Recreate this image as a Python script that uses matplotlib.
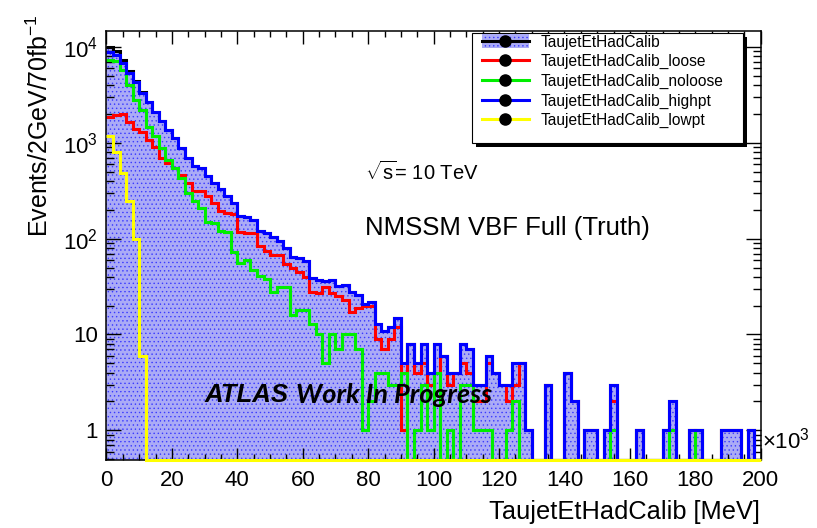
import numpy as np
import matplotlib
matplotlib.use("Agg")
import matplotlib.pyplot as plt
from matplotlib.patches import Patch, Rectangle
from matplotlib.lines import Line2D
from matplotlib.ticker import FixedLocator, MultipleLocator, LogLocator, NullFormatter

plt.rcParams["font.family"] = ["Liberation Sans", "DejaVu Sans"]
plt.rcParams["mathtext.fontset"] = "custom"
plt.rcParams["mathtext.rm"] = "Liberation Sans"
plt.rcParams["mathtext.it"] = "Liberation Sans:italic"
plt.rcParams["mathtext.bf"] = "Liberation Sans:bold"
plt.rcParams["hatch.linewidth"] = 0.5

# TaujetEtHadCalib in units of 10^3 MeV, 2 GeV bins
bin_edges = np.arange(0, 202, 2)

highpt = [8900, 8250, 6800, 5400, 4300, 3350, 2650, 2100, 1680, 1370,
          1120, 880, 690, 570, 545, 446, 385, 330, 280, 236,
          172, 170, 158, 121, 115, 105, 94, 79, 65, 63,
          58, 39, 37, 36, 37, 32, 33, 28, 26, 21,
          22, 13, 11, 12, 15, 5, 8, 5, 8, 4,
          8, 6, 4, 4, 8, 7, 3, 3, 6, 4,
          3, 3, 5, 5, 1, 0, 0, 3, 0, 0,
          4, 2, 0, 1, 1, 0, 1, 3, 0, 0,
          0, 1, 0, 0, 0, 1, 2, 0, 0, 1,
          1, 0, 0, 0, 1, 1, 1, 0, 1, 0]

lowpt = [1180, 810, 485, 250, 100, 6, 0, 0, 0, 0,
         0, 0, 0, 0, 0, 0, 0, 0, 0, 0,
         0, 0, 0, 0, 0, 0, 0, 0, 0, 0,
         0, 0, 0, 0, 0, 0, 0, 0, 0, 0,
         0, 0, 0, 0, 0, 0, 0, 0, 0, 0,
         0, 0, 0, 0, 0, 0, 0, 0, 0, 0,
         0, 0, 0, 0, 0, 0, 0, 0, 0, 0,
         0, 0, 0, 0, 0, 0, 0, 0, 0, 0,
         0, 0, 0, 0, 0, 0, 0, 0, 0, 0,
         0, 0, 0, 0, 0, 0, 0, 0, 0, 0]

noloose = [7400, 7100, 5760, 4000, 2800, 2200, 1480, 1165, 880, 660,
           545, 428, 298, 250, 210, 151, 145, 120, 118, 72,
           56, 60, 47, 41, 38, 28, 31, 31, 16, 18,
           18, 13, 10, 5, 10, 7, 10, 10, 7, 1,
           2, 4, 4, 3, 3, 4, 0, 1, 3, 1,
           4, 0, 1, 0, 3, 3, 1, 1, 1, 0,
           0, 1, 2, 0, 0, 0, 0, 0, 0, 0,
           0, 0, 0, 0, 0, 0, 0, 1, 0, 0,
           0, 0, 0, 0, 0, 0, 1, 0, 0, 0,
           1, 0, 0, 0, 0, 0, 0, 0, 0, 0]

loose = [1850, 1960, 2000, 1670, 1410, 1300, 1075, 915, 690, 614,
         545, 464, 380, 318, 318, 277, 236, 195, 185, 180,
         118, 115, 115, 83, 74, 68, 68, 54, 50, 45,
         40, 28, 27, 31, 27, 25, 23, 17, 19, 20,
         20, 9, 7, 9, 12, 1, 8, 4, 5, 3,
         4, 6, 3, 4, 5, 4, 2, 2, 5, 4,
         3, 2, 3, 5, 1, 0, 0, 3, 0, 0,
         4, 2, 0, 1, 1, 0, 1, 2, 0, 0,
         0, 1, 0, 0, 0, 1, 1, 0, 0, 1,
         0, 0, 0, 0, 1, 1, 1, 0, 1, 0]

labels = ["TaujetEtHadCalib", "TaujetEtHadCalib_loose", "TaujetEtHadCalib_noloose",
          "TaujetEtHadCalib_highpt", "TaujetEtHadCalib_lowpt"]

total = np.array(highpt, float) + np.array(lowpt, float)

YMIN, YMAX = 0.49, 1.47e4
W, H = 817, 528


def fx(px):
    return px / W


def fy(py):
    return 1 - py / H


def on_floor(vals):
    v = np.asarray(vals, float)
    return np.where(v > 0, v, YMIN)


fig = plt.figure(figsize=(W / 100, H / 100), dpi=100)
ax = fig.add_axes([fx(106.5), fy(460), fx(760.7) - fx(106.5), fy(31) - fy(460)])
ax.set_yscale("log")
ax.set_xlim(0, 200)
ax.set_ylim(YMIN, YMAX)

fill_kw = dict(facecolor="#ababf6", edgecolor="#3a3aff", hatch="....", linewidth=0)
ax.stairs(on_floor(total), bin_edges, fill=True, baseline=YMIN, zorder=1, **fill_kw)
ax.stairs(on_floor(total), bin_edges, baseline=None, color="black", linewidth=2.2, zorder=2)
ax.stairs(on_floor(loose), bin_edges, baseline=None, color="#ff0000", linewidth=2.2, zorder=3)
ax.stairs(on_floor(noloose), bin_edges, baseline=None, color="#00ee00", linewidth=2.2, zorder=4)
ax.stairs(on_floor(highpt), bin_edges, baseline=None, color="#0000ff", linewidth=2.2, zorder=5)
ax.stairs(on_floor(lowpt), bin_edges, baseline=None, color="#ffff00", linewidth=2.2,
          zorder=6, clip_on=False)

for s in ax.spines.values():
    s.set_linewidth(1.1)
    s.set_zorder(5.5)

ax.xaxis.set_major_locator(MultipleLocator(20))
ax.xaxis.set_minor_locator(MultipleLocator(5))
ax.xaxis.set_major_formatter(plt.FuncFormatter(lambda v, p: f"{v:.0f}"))
ax.yaxis.set_major_locator(FixedLocator([1, 10, 100, 1000, 10000]))
ax.set_yticklabels(["1", "10", "$10^{2}$", "$10^{3}$", "$10^{4}$"])
ax.yaxis.set_minor_locator(LogLocator(base=10, subs=np.arange(2, 10), numticks=20))
ax.yaxis.set_minor_formatter(NullFormatter())
ax.tick_params(which="both", direction="in", top=True, right=True, width=1.0,
               labelsize=16, zorder=5.6)
ax.tick_params(axis="x", which="major", length=9, pad=7)
ax.tick_params(axis="x", which="minor", length=4.5)
ax.tick_params(axis="y", which="major", length=11, pad=6)
ax.tick_params(axis="y", which="minor", length=6)

fig.text(fx(762), fy(449), r"$\times10^{3}$", fontsize=16, ha="left", va="baseline")
fig.text(fx(760), fy(512), "TaujetEtHadCalib [MeV]", fontsize=18.3, ha="right", va="center")
fig.text(fx(40), fy(15), r"Events/2GeV/70fb$^{-1}$", fontsize=18, rotation=90,
         ha="center", va="top")

fig.text(fx(365), fy(172), r"$\sqrt{\mathrm{s}}$= 10 TeV", fontsize=14.5, ha="left",
         va="center")
fig.text(fx(365), fy(228), "NMSSM VBF Full (Truth)", fontsize=18.5, ha="left", va="center")
fig.text(fx(205), fy(395), "ATLAS", fontsize=18.5, fontweight="bold", fontstyle="italic",
         ha="left", va="center", zorder=10)
fig.text(fx(296), fy(395), "Work In Progress", fontsize=19.5, fontweight="bold",
         fontstyle="italic", family=["Lato", "Liberation Sans"], ha="left", va="center",
         zorder=10)

# legend box with ROOT-style drop shadow
fig.add_artist(Rectangle((fx(475.7), fy(147)), fx(747) - fx(475.7), fy(37.3) - fy(147),
                         transform=fig.transFigure, facecolor="black", edgecolor="none",
                         zorder=1))
fig.add_artist(Rectangle((fx(471.7), fy(143)), fx(743) - fx(471.7), fy(33.3) - fy(143),
                         transform=fig.transFigure, facecolor="white", edgecolor="black",
                         linewidth=0.8, zorder=1.1))

line_kw = dict(linewidth=2.2, marker="o", markersize=8, markerfacecolor="black",
               markeredgecolor="black")
handles = [
    (Patch(**fill_kw), Line2D([], [], color="black", **line_kw)),
    Line2D([], [], color="#ff0000", **line_kw),
    Line2D([], [], color="#00ee00", **line_kw),
    Line2D([], [], color="#0000ff", **line_kw),
    Line2D([], [], color="#ffff00", **line_kw),
]
fig.legend(handles, labels, loc="upper left", bbox_to_anchor=(fx(481.7), fy(34.5)),
           bbox_transform=fig.transFigure, frameon=False, borderpad=0, borderaxespad=0,
           handlelength=3.05, handleheight=0.95, handletextpad=0.77, labelspacing=0.29,
           fontsize=11.2, numpoints=1)

fig.savefig("out.png", dpi=100)
